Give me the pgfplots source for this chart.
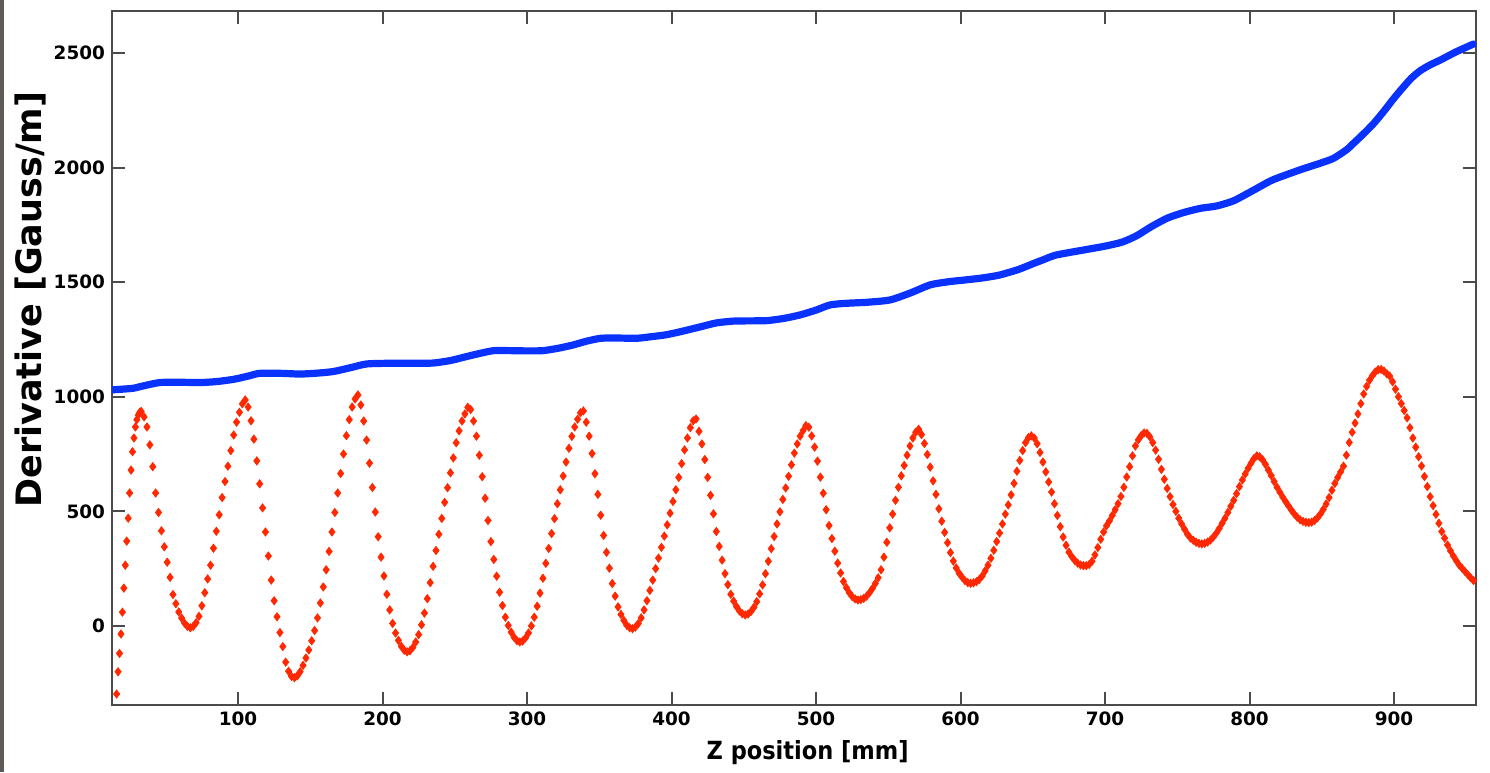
\documentclass[border=0pt]{standalone}
\usepackage{fontspec}
\setmainfont{DejaVu Sans}
\usepackage{pgfplots}
\usepackage{pgfplotstable}
\pgfplotsset{compat=1.18}
\definecolor{fieldblue}{RGB}{10,50,255}
\definecolor{gradred}{RGB}{255,40,0}
\definecolor{axisgray}{RGB}{75,75,75}
\definecolor{edgegray}{RGB}{95,90,85}

% Field (blue) along the beam axis
\pgfplotstableread{
z B
13 1030
20 1033
27.5 1037
35 1048
46 1062
60 1063
74 1062
85 1066
97 1076
107 1090
115 1102
130 1102
143 1099
155 1103
166 1110
178 1127
189 1143
205 1146
220 1146
235 1147
247 1158
258 1175
268 1190
277 1201
290 1201
300 1200
311 1201
322 1212
332 1226
341 1242
351 1255
363 1256
376 1255
386 1262
396 1270
407 1285
420 1305
431 1322
443 1330
455 1331
466 1332
478 1342
489 1357
500 1378
510 1401
522 1408
535 1412
551 1422
565 1452
579 1488
592 1502
604 1510
616 1519
627 1531
640 1555
650 1580
657 1597
666 1618
685 1640
700 1657
712 1675
722 1703
732 1742
743 1779
754 1803
766 1822
777 1832
789 1855
803 1902
816 1946
835 1990
849 2019
858 2040
867 2077
872 2106
879 2148
886 2193
893 2246
899 2295
906 2348
912 2390
918 2422
925 2448
932 2469
943 2505
955 2539
}\blueData

% Derivative (red) along the beam axis
\pgfplotstableread{
z dB
16 -297
17 -200
18 -120
19 -35
20 60
21 165
22 265
23 370
24 470
25 580
26 680
27 760
28 820
29 868
30 900
31 920
32 932
33 936
35 912
37 868
39 790
41 695
43 580
45 495
47 415
49 345
51 278
53 212
55 137
57 97
59 61
61 34
63 12
65 -2
67 -8
69 -2
71 14
73 42
75 88
77 145
79 205
81 265
83 339
85 413
87 485
89 560
91 630
93 697
95 765
97 833
99 889
101 932
103 969
105 986
107 955
109 895
111 815
113 720
115 620
117 515
119 410
121 305
123 200
125 110
127 40
129 -29
131 -90
133 -158
135 -198
137 -220
139 -226
141 -218
143 -200
145 -172
147 -140
149 -105
151 -65
153 -20
155 35
157 100
159 170
161 245
163 325
165 410
167 495
169 580
171 665
173 750
175 830
177 900
179 955
181 990
183 1008
185 964
187 894
189 811
191 710
193 604
195 497
197 389
199 300
201 218
203 138
205 70
207 11
209 -31
211 -63
213 -89
215 -106
217 -113
219 -108
221 -94
223 -70
225 -38
227 5
229 56
231 119
233 189
235 260
237 329
239 400
241 469
243 539
245 603
247 668
249 733
251 799
253 851
255 894
257 925
259 954
261 944
263 894
265 828
267 745
269 651
271 557
273 460
275 368
277 290
279 217
281 147
283 89
285 38
287 2
289 -27
291 -49
293 -64
295 -70
297 -66
299 -52
301 -31
303 0
305 38
307 86
309 143
311 208
313 273
315 338
317 403
319 468
321 533
323 594
325 654
327 715
329 775
331 827
333 868
335 902
337 930
339 938
341 889
343 828
345 752
347 664
349 574
351 483
353 395
355 321
357 252
359 185
361 130
363 83
365 50
367 24
369 3
371 -8
373 -12
375 -5
377 10
379 35
381 70
383 110
385 155
387 200
389 250
391 296
393 343
395 392
397 441
399 492
401 543
403 594
405 648
407 708
409 768
411 820
413 865
415 895
417 903
419 849
421 794
423 726
425 648
427 570
429 489
431 412
433 347
435 287
437 228
439 180
441 138
443 108
445 84
447 65
449 53
451 48
453 52
455 63
457 81
459 106
461 140
463 179
465 228
467 282
469 337
471 390
473 445
475 498
477 552
479 602
481 653
483 703
485 754
487 794
489 828
491 852
493 874
495 867
497 829
499 780
501 719
503 649
505 579
507 507
509 438
511 381
513 326
515 274
517 231
519 194
521 167
523 145
525 128
527 118
529 113
531 115
533 120
535 130
537 145
539 163
541 185
543 210
545 245
547 300
549 365
551 428
553 488
555 548
557 605
559 655
561 700
563 745
565 785
567 820
569 845
571 858
573 835
575 796
577 748
579 693
581 633
583 574
585 511
587 457
589 408
591 363
593 320
595 283
597 253
599 230
601 213
603 198
605 189
607 186
609 188
611 193
613 203
615 218
617 240
619 265
621 295
623 330
625 368
627 405
629 445
631 488
633 528
635 572
637 622
639 675
641 722
643 765
645 800
647 822
649 829
651 820
653 795
655 757
657 715
659 672
661 628
663 584
665 533
667 482
669 433
671 388
673 352
675 322
677 302
679 286
681 274
683 266
685 263
687 263
689 268
691 282
693 310
695 342
697 378
699 410
701 437
703 458
705 482
707 507
709 533
711 565
713 605
715 650
717 695
719 742
721 785
723 812
725 830
727 842
729 840
731 825
733 800
735 767
737 727
739 683
741 640
743 600
745 564
747 530
749 500
751 470
753 445
755 422
757 400
759 384
761 374
763 365
765 360
767 358
769 360
771 366
773 375
775 388
777 405
779 425
781 448
783 470
785 495
787 522
789 548
791 577
793 608
795 637
797 663
799 688
801 710
803 730
805 742
807 738
809 725
811 705
813 680
815 656
817 630
819 605
821 583
823 562
825 542
827 523
829 505
831 488
833 474
835 463
837 456
839 452
841 451
843 453
845 460
847 472
849 488
851 508
853 532
855 560
857 592
859 622
861 648
863 672
865 697
867 745
869 800
871 845
873 885
875 925
877 970
879 1012
881 1045
883 1072
885 1092
887 1108
889 1118
891 1119
893 1112
895 1100
897 1090
899 1065
901 1033
903 1000
905 970
907 940
909 908
911 865
913 820
915 780
917 738
919 698
921 652
923 608
925 564
927 525
929 487
931 448
933 412
935 383
937 353
939 328
941 305
943 285
945 266
947 252
949 238
951 224
953 210
955 198
}\redData

\begin{document}
\begin{tikzpicture}
\begin{axis}[
  scale only axis,
  width=682pt, height=347pt,
  xmin=12.8, xmax=956.7,
  ymin=-345, ymax=2683,
  xtick={100,200,...,900},
  ytick={0,500,...,2500},
  tick align=inside,
  major tick length=6.5pt,
  axis line style={axisgray, line width=1pt},
  every tick/.style={axisgray, line width=1pt},
  ticklabel style={font=\bfseries\fontsize{9.2}{10}\selectfont},
  /pgf/number format/assume math mode=true,
  /pgf/number format/set thousands separator={},
  xlabel={\scalebox{0.9}[1]{Z position [mm]}},
  ylabel={Derivative [Gauss/m]},
  xlabel style={font=\bfseries\fontsize{12.5}{14}\selectfont,
    at={(axis description cs:0.51,-0.068)}, anchor=center},
  ylabel style={font=\bfseries\fontsize{17.5}{19}\selectfont,
    at={(axis description cs:-0.060,0.584)}, anchor=center},
]
\addplot[fieldblue, line width=3.6pt, line join=round, line cap=round,
  smooth, tension=0.4]
  table[x=z, y=B] {\blueData};
\addplot[only marks, mark=diamond*, mark size=2.1pt,
  mark options={draw=gradred, fill=gradred, line width=0.3pt}]
  table[x=z, y=dB] {\redData};
\end{axis}
\path ([shift={(-56pt,-33.5pt)}]current axis.south west)
  rectangle ([shift={(7pt,5.5pt)}]current axis.north east);
\fill[edgegray] ([shift={(-56pt,-33.5pt)}]current axis.south west)
  rectangle ([shift={(-54pt,5.5pt)}]current axis.north west);
\end{tikzpicture}
\end{document}
